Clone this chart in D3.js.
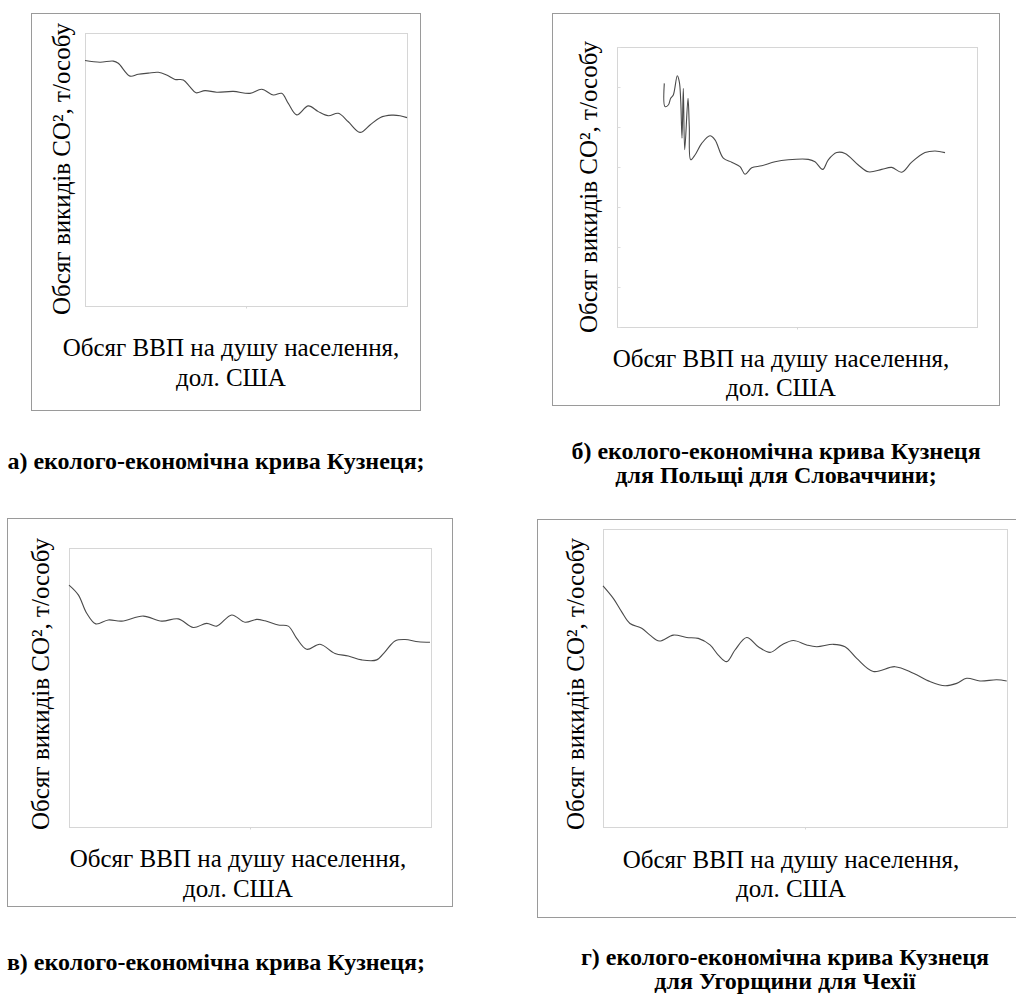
<!DOCTYPE html>
<html>
<head>
<meta charset="utf-8">
<script src="https://cdn.jsdelivr.net/npm/d3@7"></script>
<style>
  html, body { margin: 0; padding: 0; background: #fff; }
  svg { display: block; }
</style>
</head>
<body>
<svg id="chart" width="1016" height="994"></svg>
<script>
// ---------------- DATA (arbitrary units) ----------------
// x: GDP per capita (relative units 0..100), y: CO2 emissions (relative units)
const gdpA = [0, 4.66, 8.79, 10.34, 13.98, 16.55, 19.66, 22.76, 25.37, 27.95, 30.53, 32.61, 34.47, 37.27, 40.90, 46.06, 51.24, 54.88, 58.48, 61.09, 63.14, 65.75, 69.35, 72.45, 75.56, 78.66, 81.77, 85.40, 88.51, 91.61, 95.25, 97.83, 100];
const co2A = [8.99, 8.93, 8.97, 8.89, 8.42, 8.49, 8.53, 8.56, 8.46, 8.30, 8.28, 8.03, 7.81, 7.89, 7.83, 7.86, 7.79, 7.94, 7.73, 7.79, 7.42, 7.00, 7.33, 7.12, 6.97, 7.06, 6.75, 6.36, 6.63, 6.90, 6.99, 6.97, 6.90];

const gdpB = [13.14, 13.33, 14.25, 14.92, 15.64, 16.75, 17.31, 17.69, 18.06, 18.42, 18.81, 19.72, 20.08, 20.47, 21.67, 23.53, 25.83, 27.22, 29.53, 31.86, 34.17, 35.56, 37.42, 40.19, 43.89, 47.58, 53.14, 55.00, 57.14, 58.69, 61.03, 63.33, 67.03, 69.81, 73.53, 76.31, 79.08, 81.86, 85.56, 88.33, 91.11];
const co2B = [6.09, 5.51, 5.55, 5.72, 5.80, 6.28, 6.13, 5.68, 4.72, 5.97, 4.43, 5.72, 5.01, 4.18, 4.30, 4.59, 4.78, 4.68, 4.22, 4.12, 4.01, 3.82, 3.98, 4.03, 4.13, 4.18, 4.19, 4.13, 3.94, 4.18, 4.36, 4.34, 4.05, 3.88, 3.94, 3.99, 3.87, 4.12, 4.36, 4.40, 4.36];

const gdpC = [0, 2.57, 4.89, 7.40, 10.86, 14.56, 20.53, 25.61, 30.20, 34.34, 38.04, 40.80, 44.95, 48.62, 51.85, 54.14, 57.82, 60.58, 62.90, 65.66, 69.34, 73.48, 77.15, 80.86, 85.00, 87.29, 90.06, 92.82, 96.49, 99.72];
const co2C = [8.67, 8.32, 7.66, 7.28, 7.42, 7.38, 7.56, 7.38, 7.46, 7.15, 7.30, 7.20, 7.60, 7.34, 7.44, 7.39, 7.24, 7.20, 6.76, 6.37, 6.55, 6.22, 6.13, 5.99, 5.99, 6.28, 6.67, 6.72, 6.64, 6.62];

const gdpD = [0, 2.55, 4.63, 6.68, 9.58, 11.63, 13.94, 17.41, 20.72, 23.59, 26.49, 28.54, 30.62, 32.67, 35.57, 38.44, 41.34, 44.23, 47.10, 50.42, 52.89, 57.00, 59.90, 62.80, 66.91, 72.28, 76.81, 80.94, 84.65, 87.55, 90.02, 93.32, 97.45, 99.93];
const co2D = [8.09, 7.67, 7.22, 6.83, 6.67, 6.44, 6.24, 6.44, 6.36, 6.33, 6.11, 5.77, 5.55, 5.94, 6.36, 6.05, 5.86, 6.11, 6.26, 6.11, 6.05, 6.13, 6.05, 5.66, 5.22, 5.38, 5.16, 4.88, 4.74, 4.82, 4.99, 4.90, 4.94, 4.90];

const xAxisTitle = ["Обсяг ВВП на душу населення,", "дол. США"];
const yAxisTitle = "Обсяг викидів CO², т/особу";
const captionA = ["а) еколого-економічна крива Кузнеця;"];
const captionB = ["б) еколого-економічна крива Кузнеця", "для Польщі для Словаччини;"];
const captionC = ["в) еколого-економічна крива Кузнеця;"];
const captionD = ["г) еколого-економічна крива Кузнеця", "для Угорщини для Чехії"];

const xDomain = [0, 100];
const yDomainA = [0, 10];
const yDomainB = [0, 7];
const yTicksB = [0, 1, 2, 3, 4, 5, 6, 7];

// ---------------- LAYOUT ----------------
const FONT = "Liberation Serif";
const panels = [
  { gdp: gdpA, co2: co2A, yDomain: yDomainA, yTicks: null, caption: captionA,
    box: [31, 13, 389, 397], plot: [85, 33, 407, 306],
    xt: [231, 356, 386], yt: [70, 169], cap: [216, 469, 0] },
  { gdp: gdpB, co2: co2B, yDomain: yDomainB, yTicks: yTicksB, caption: captionB,
    box: [552, 13, 447, 392], plot: [617, 47, 977, 327],
    xt: [781, 367, 396], yt: [597, 187], cap: [776, 459, 24] },
  { gdp: gdpC, co2: co2C, yDomain: yDomainA, yTicks: null, caption: captionC,
    box: [7, 518, 445, 388], plot: [69, 548, 431, 827],
    xt: [238, 867, 897], yt: [49, 684], cap: [216, 970, 0] },
  { gdp: gdpD, co2: co2D, yDomain: yDomainA, yTicks: null, caption: captionD,
    box: [537, 519, 490, 398], plot: [603, 529, 1007, 827],
    xt: [791, 868, 897], yt: [584, 684], cap: [785, 965, 24] }
];

const svg = d3.select("#chart");

panels.forEach(p => {
  const g = svg.append("g");
  g.append("rect")
    .attr("x", p.box[0] + 0.5).attr("y", p.box[1] + 0.5)
    .attr("width", p.box[2]).attr("height", p.box[3])
    .attr("fill", "#fff").attr("stroke", "#9a9a9a").attr("stroke-width", 1);

  const [l, t, r, b] = p.plot;
  const x = d3.scaleLinear().domain(xDomain).range([l, r]);
  const y = d3.scaleLinear().domain(p.yDomain).range([b, t]);

  g.append("rect")
    .attr("x", l + 0.5).attr("y", t + 0.5)
    .attr("width", r - l).attr("height", b - t)
    .attr("fill", "none").attr("stroke", "#d6d6d6").attr("stroke-width", 1);

  const xa = g.append("g").attr("transform", `translate(0,${b + 0.5})`)
    .call(d3.axisBottom(x).tickValues([50]).tickSize(2).tickFormat(""));
  xa.select(".domain").remove();
  xa.selectAll("line").attr("stroke", "#d6d6d6");
  if (p.yTicks) {
    const ya = g.append("g").attr("transform", `translate(${l + 0.5},0)`)
      .call(d3.axisLeft(y).tickValues(p.yTicks).tickSize(-3).tickFormat(""));
    ya.select(".domain").remove();
    ya.selectAll("line").attr("stroke", "#dcdcdc");
  }

  const pts = p.gdp.map((v, i) => [v, p.co2[i]]);
  g.append("path")
    .datum(pts)
    .attr("fill", "none")
    .attr("stroke", "#4a4a4a")
    .attr("stroke-width", 1.1)
    .attr("d", d3.line().x(d => x(d[0])).y(d => y(d[1])).curve(d3.curveCatmullRom.alpha(0.5)));

  xAxisTitle.forEach((s, i) => {
    g.append("text")
      .attr("x", p.xt[0]).attr("y", p.xt[1 + i])
      .attr("text-anchor", "middle")
      .attr("font-family", FONT)
      .attr("font-size", 25)
      .text(s);
  });
  g.append("text")
    .attr("transform", `translate(${p.yt[0]},${p.yt[1]}) rotate(-90)`)
    .attr("text-anchor", "middle")
    .attr("font-family", FONT)
    .attr("font-size", 25)
    .text(yAxisTitle);

  p.caption.forEach((s, i) => {
    svg.append("text")
      .attr("x", p.cap[0]).attr("y", p.cap[1] + i * p.cap[2])
      .attr("text-anchor", "middle")
      .attr("font-family", FONT)
      .attr("font-size", 24)
      .attr("font-weight", "bold")
      .text(s);
  });
});
</script>
</body>
</html>
